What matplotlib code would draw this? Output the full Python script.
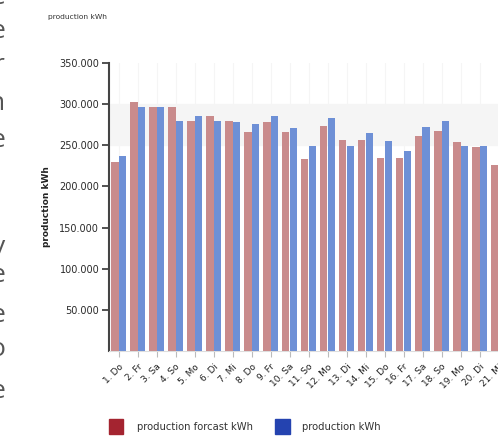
import matplotlib
matplotlib.use('Agg')
import matplotlib.pyplot as plt
from matplotlib.patches import Rectangle
from matplotlib.ticker import FuncFormatter
import numpy as np

days = ['1. Do', '2. Fr', '3. Sa', '4. So', '5. Mo', '6. Di', '7. Mi',
        '8. Do', '9. Fr', '10. Sa', '11. So', '12. Mo', '13. Di', '14. Mi',
        '15. Do', '16. Fr', '17. Sa', '18. So', '19. Mo', '20. Di', '21. Mi']
forecast = [230000, 303000, 296000, 297000, 280000, 285000, 280000,
            266000, 278000, 266000, 233000, 273000, 256000, 256000,
            235000, 235000, 261000, 267000, 254000, 248000, 226000]
production = [237000, 296000, 296000, 280000, 285000, 279000, 278000,
              276000, 285000, 271000, 249000, 283000, 249000, 265000,
              255000, 243000, 272000, 279000, 249000, 249000, 230000]
yticks = [50000, 100000, 150000, 200000, 250000, 300000, 350000]
# clipped paragraph text running along the left page margin
margin_letters = ['e', 'e', 'r', 'n', 'e', 'y', 'e', 'e', 'o', 'e']
margin_rows = [-2, 32, 66, 103, 140, 247, 276, 315, 350, 391]

red = '#c98b8c'
blue = '#6e90d6'

W, H = 498, 437
fig = plt.figure(figsize=(W / 100, H / 100), dpi=100)
fig.patch.set_facecolor('white')

# axes runs past the right edge, so the last group is cut off
ax = fig.add_axes([109 / W, 86 / H, 399 / W, 288 / H])
x = np.arange(len(days))
bw = 0.37
ax.bar(x - bw / 2, forecast, bw, color=red, zorder=3)
ax.bar(x + bw / 2, production, bw, color=blue, zorder=3)

ax.axhspan(250000, 300000, color='#f5f5f5', zorder=0)
for xi in x:
    ax.axvline(xi, color='#f5f5f5', lw=0.8, zorder=1)

ax.set_xlim(-0.5, len(days) - 0.5)
ax.set_ylim(0, 350000)
ax.set_yticks(yticks)
ax.yaxis.set_major_formatter(FuncFormatter(lambda v, p: f'{v:,.0f}'.replace(',', '.')))
ax.tick_params(axis='y', length=5, width=1.3, color='#444444', labelsize=7,
               labelcolor='#2a2a2a', pad=2)
ax.set_xticks(x)
ax.set_xticklabels(days, rotation=45, ha='right', va='top', rotation_mode='anchor',
                   fontsize=6.5, color='#222222')
ax.tick_params(axis='x', length=4, width=0.8, color='#bbbbbb', pad=4)
for s in ['top', 'right']:
    ax.spines[s].set_visible(False)
ax.spines['left'].set_color('#444444')
ax.spines['left'].set_linewidth(1.5)
ax.spines['bottom'].set_color('#dddddd')
ax.set_facecolor('white')

ax.set_ylabel('production kWh', fontsize=6.5, fontweight='bold', color='#222222', labelpad=6)
fig.text(48 / W, 1 - 17 / H, 'production kWh', fontsize=5.4, color='#333333',
         ha='left', va='center')

# legend swatches along the bottom
fig.add_artist(Rectangle((109 / W, 1 - 434 / H), 14 / W, 15 / H,
                         transform=fig.transFigure, color='#a42430'))
fig.text(137 / W, 1 - 427 / H, 'production forcast kWh', fontsize=7.2,
         color='#333333', va='center')
fig.add_artist(Rectangle((275 / W, 1 - 434 / H), 15 / W, 15 / H,
                         transform=fig.transFigure, color='#2443b0'))
fig.text(302 / W, 1 - 427 / H, 'production kWh', fontsize=7.2,
         color='#333333', va='center')

for ch, yy in zip(margin_letters, margin_rows):
    fig.text(5 / W, 1 - yy / H, ch, fontsize=19, color='#555555',
             family='Open Sans', ha='right', va='center')

fig.savefig('out.png', dpi=100)
